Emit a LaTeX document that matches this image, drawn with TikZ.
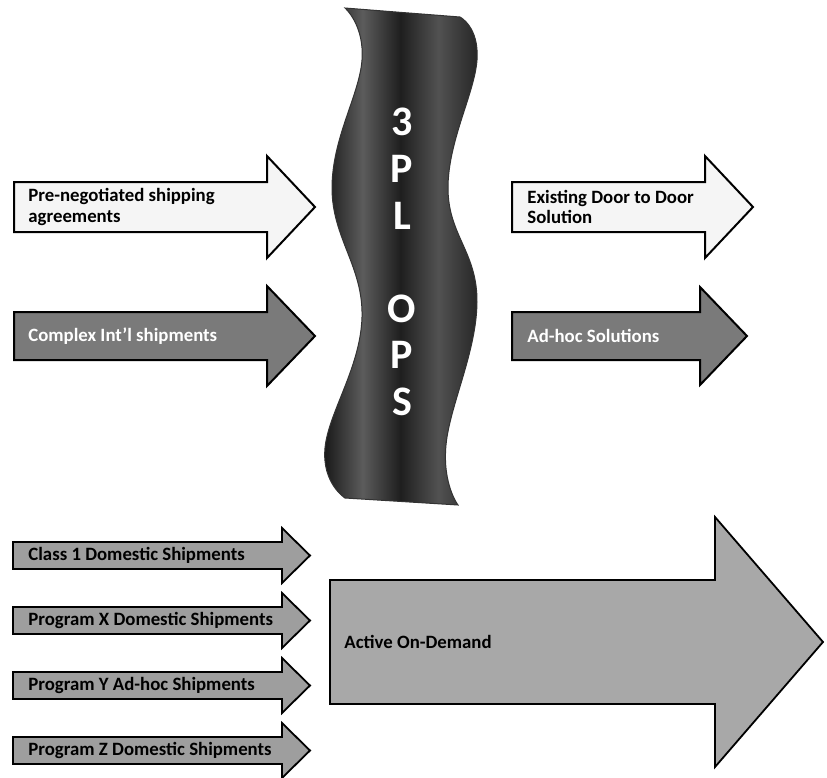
\documentclass[tikz,border=0pt]{standalone}
\usepackage{fontspec}
\setmainfont{Carlito}
\usepackage{tikz}
\usetikzlibrary{positioning,calc}
\pgfdeclarehorizontalshading{ribbon}{100bp}{color(0bp)=(black); color(25bp)=(black!92); color(38bp)=(black!64); color(50bp)=(black!88); color(62bp)=(black!68); color(78bp)=(black!90); color(100bp)=(black)}
\tikzset{%
	lightarrow/.style = {draw=black, line width=1pt, fill=gray!8},
	darkarrow/.style  = {draw=black, line width=1pt, fill=black!52},
	shiparrow/.style  = {draw=black, line width=0.9pt, fill=black!38},
	ondemand/.style   = {draw=black, line width=0.9pt, fill=black!34},
	tag/.style        = {anchor=west, inner sep=0pt, align=left, font=\bfseries\fontsize{9.4}{10.2}\selectfont},
	whitetag/.style   = {tag, text=white},
	opsletters/.style = {text=white, align=center, inner sep=0pt, font=\bfseries\fontsize{21}{23.3}\selectfont},
}
\newcommand{\flatarrow}[7]{\draw[#1] (#2,#5-#6) -- (#3,#5-#6) -- (#3,#5-#7) -- (#4,#5) -- (#3,#5+#7) -- (#3,#5+#6) -- (#2,#5+#6) -- cycle;}

\begin{document}
\begin{tikzpicture}[x=0.5pt,y=-0.5pt]
	\useasboundingbox (0,0) rectangle (827,778);
	
	\shade[shading=ribbon, draw=black!80, line width=0.5pt] (345,8) -- (460,17) -- plot[smooth, tension=0.7] coordinates {(460,17) (477,60) (448,188) (477,302) (446,445) (458,505)} -- (345,498) -- plot[smooth, tension=0.7] coordinates {(345,498) (325,448) (362,317) (332,188) (362,60) (345,8)} -- cycle;
	\node[opsletters] (ops) at (402,262) {3\\P\\L\\[23.3pt]O\\P\\S};
	
	\flatarrow{lightarrow}{14}{267}{315}{207}{25}{51}
	\flatarrow{darkarrow}{14}{267}{315}{336}{24}{50}
	\flatarrow{lightarrow}{512}{705}{753}{207}{25}{51}
	\flatarrow{darkarrow}{512}{700}{747}{336}{24}{49}
	\foreach \ymid in {555.5,620.5,685.5,750.5} {\flatarrow{shiparrow}{13}{282}{310}{\ymid}{13.5}{27.5}}
	\flatarrow{ondemand}{330}{715}{823}{642}{62}{125}
	
	\node[tag] (pre) at (28,207) {Pre-negotiated shipping\\agreements};
	\node[whitetag] (complex) at (28,336) {Complex Int'l shipments};
	\node[tag] (existing) at (527,207) {Existing Door to Door\\Solution};
	\node[whitetag] (adhoc) at (527,336) {Ad-hoc Solutions};
	\node[tag] (class1) at (28,555.5) {Class 1 Domestic Shipments};
	\node[tag] (progx) at (28,620.5) {Program X Domestic Shipments};
	\node[tag] (progy) at (28,685.5) {Program Y Ad-hoc Shipments};
	\node[tag] (progz) at (28,750.5) {Program Z Domestic Shipments};
	\node[tag] (active) at (344,642) {Active On-Demand};
\end{tikzpicture}
\end{document}
